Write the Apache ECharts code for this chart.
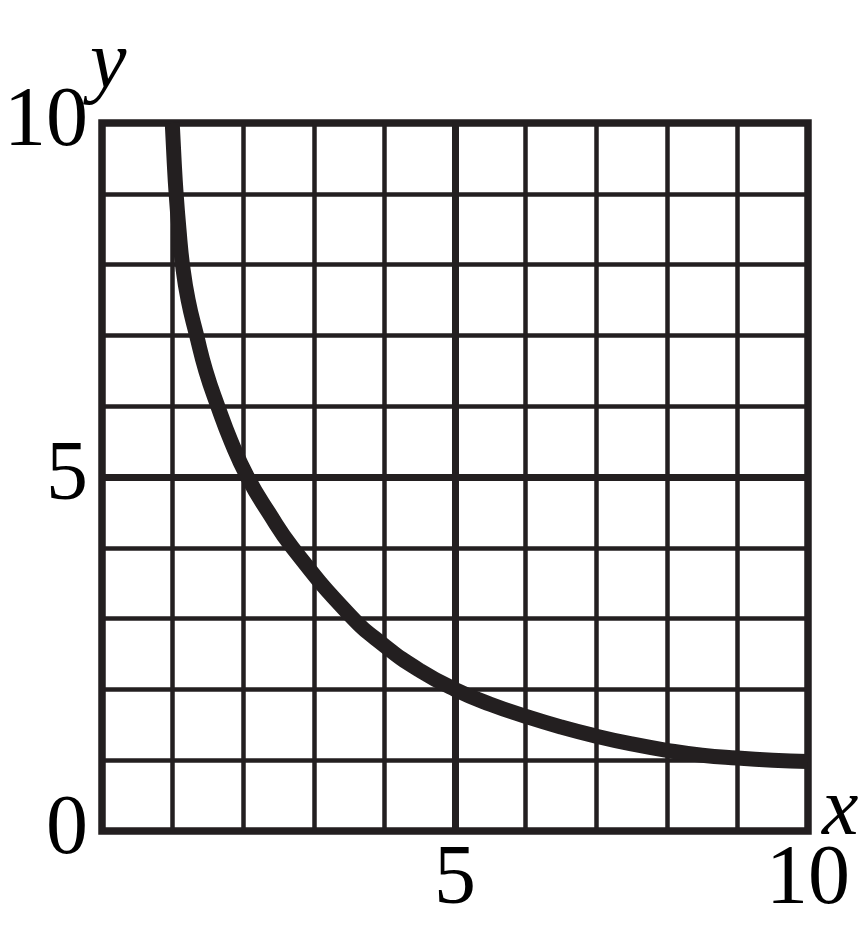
<!DOCTYPE html>
<html>
<head>
<meta charset="utf-8">
<script src="https://cdn.jsdelivr.net/npm/echarts@6/dist/echarts.min.js"></script>
<style>
html,body{margin:0;padding:0;background:#fff;}
#chart{width:868px;height:927px;}
</style>
</head>
<body>
<div id="chart"></div>
<script>
// Curve points: [x, y]
const curveX = [0.995, 1.02, 1.05, 1.09, 1.14, 1.22, 1.34, 1.47, 1.64, 1.83, 2.06, 2.36, 2.7, 3.5, 4.0, 4.5, 5.0, 5.5, 6.0, 6.5, 7.0, 7.5, 8.0, 8.5, 9.0, 9.5, 10.0];
const curveY = [10.0, 9.5, 9.0, 8.5, 8.0, 7.5, 7.0, 6.5, 6.0, 5.5, 5.0, 4.5, 4.0, 3.06, 2.62, 2.27, 2.0, 1.79, 1.62, 1.47, 1.34, 1.23, 1.14, 1.07, 1.03, 1.0, 0.98];
const xTickLabels = [5, 10];
const yTickLabels = [0, 5, 10];
const emphasisLinesX = [5];
const emphasisLinesY = [5];

const INK = '#231f20';
const FONT = 'Liberation Serif';

const curveData = curveX.map((x, i) => [x, curveY[i]]);

const chart = echarts.init(document.getElementById('chart'), null, {renderer: 'canvas'});
chart.setOption({
  animation: false,
  backgroundColor: '#fff',
  grid: {
    left: 102, right: 60, top: 123, bottom: 96,
    containLabel: false, outerBoundsMode: 'none',
    show: true, borderColor: INK, borderWidth: 7.5, backgroundColor: 'transparent'
  },
  xAxis: {
    type: 'value', min: 0, max: 10, interval: 1,
    name: 'x', nameLocation: 'end', nameGap: 14, nameMoveOverlap: false,
    nameTextStyle: {fontFamily: FONT, fontStyle: 'italic', fontSize: 82, color: '#000', verticalAlign: 'bottom', padding: [0, 0, -22, 0]},
    axisLine: {show: false}, axisTick: {show: false},
    axisLabel: {
      show: true, margin: 8, fontFamily: FONT, fontSize: 84, color: '#000',
      showMinLabel: true, showMaxLabel: true, hideOverlap: false,
      formatter: v => xTickLabels.includes(v) ? String(v) : ''
    },
    splitLine: {show: true, lineStyle: {color: INK, width: 4.5}}
  },
  yAxis: {
    type: 'value', min: 0, max: 10, interval: 1,
    name: 'y', nameLocation: 'end', nameGap: 17, nameMoveOverlap: false,
    nameTextStyle: {fontFamily: FONT, fontStyle: 'italic', fontSize: 82, color: '#000', align: 'left', padding: [0, 0, 0, -12]},
    axisLine: {show: false}, axisTick: {show: false},
    axisLabel: {
      show: true, margin: 14, fontFamily: FONT, fontSize: 84, color: '#000',
      showMinLabel: true, showMaxLabel: true, hideOverlap: false,
      formatter: v => yTickLabels.includes(v) ? String(v) : ''
    },
    splitLine: {show: true, lineStyle: {color: INK, width: 4.5}}
  },
  series: [
    {
      type: 'line', data: [], z: 1,
      markLine: {
        silent: true, symbol: 'none', label: {show: false},
        lineStyle: {color: INK, width: 7, type: 'solid'},
        data: emphasisLinesX.map(v => ({xAxis: v})).concat(emphasisLinesY.map(v => ({yAxis: v})))
      }
    },
    {
      type: 'line', data: curveData, smooth: 0.5, showSymbol: false, z: 5,
      clip: true,
      lineStyle: {color: INK, width: 15, cap: 'butt'}
    }
  ]
});
</script>
</body>
</html>
